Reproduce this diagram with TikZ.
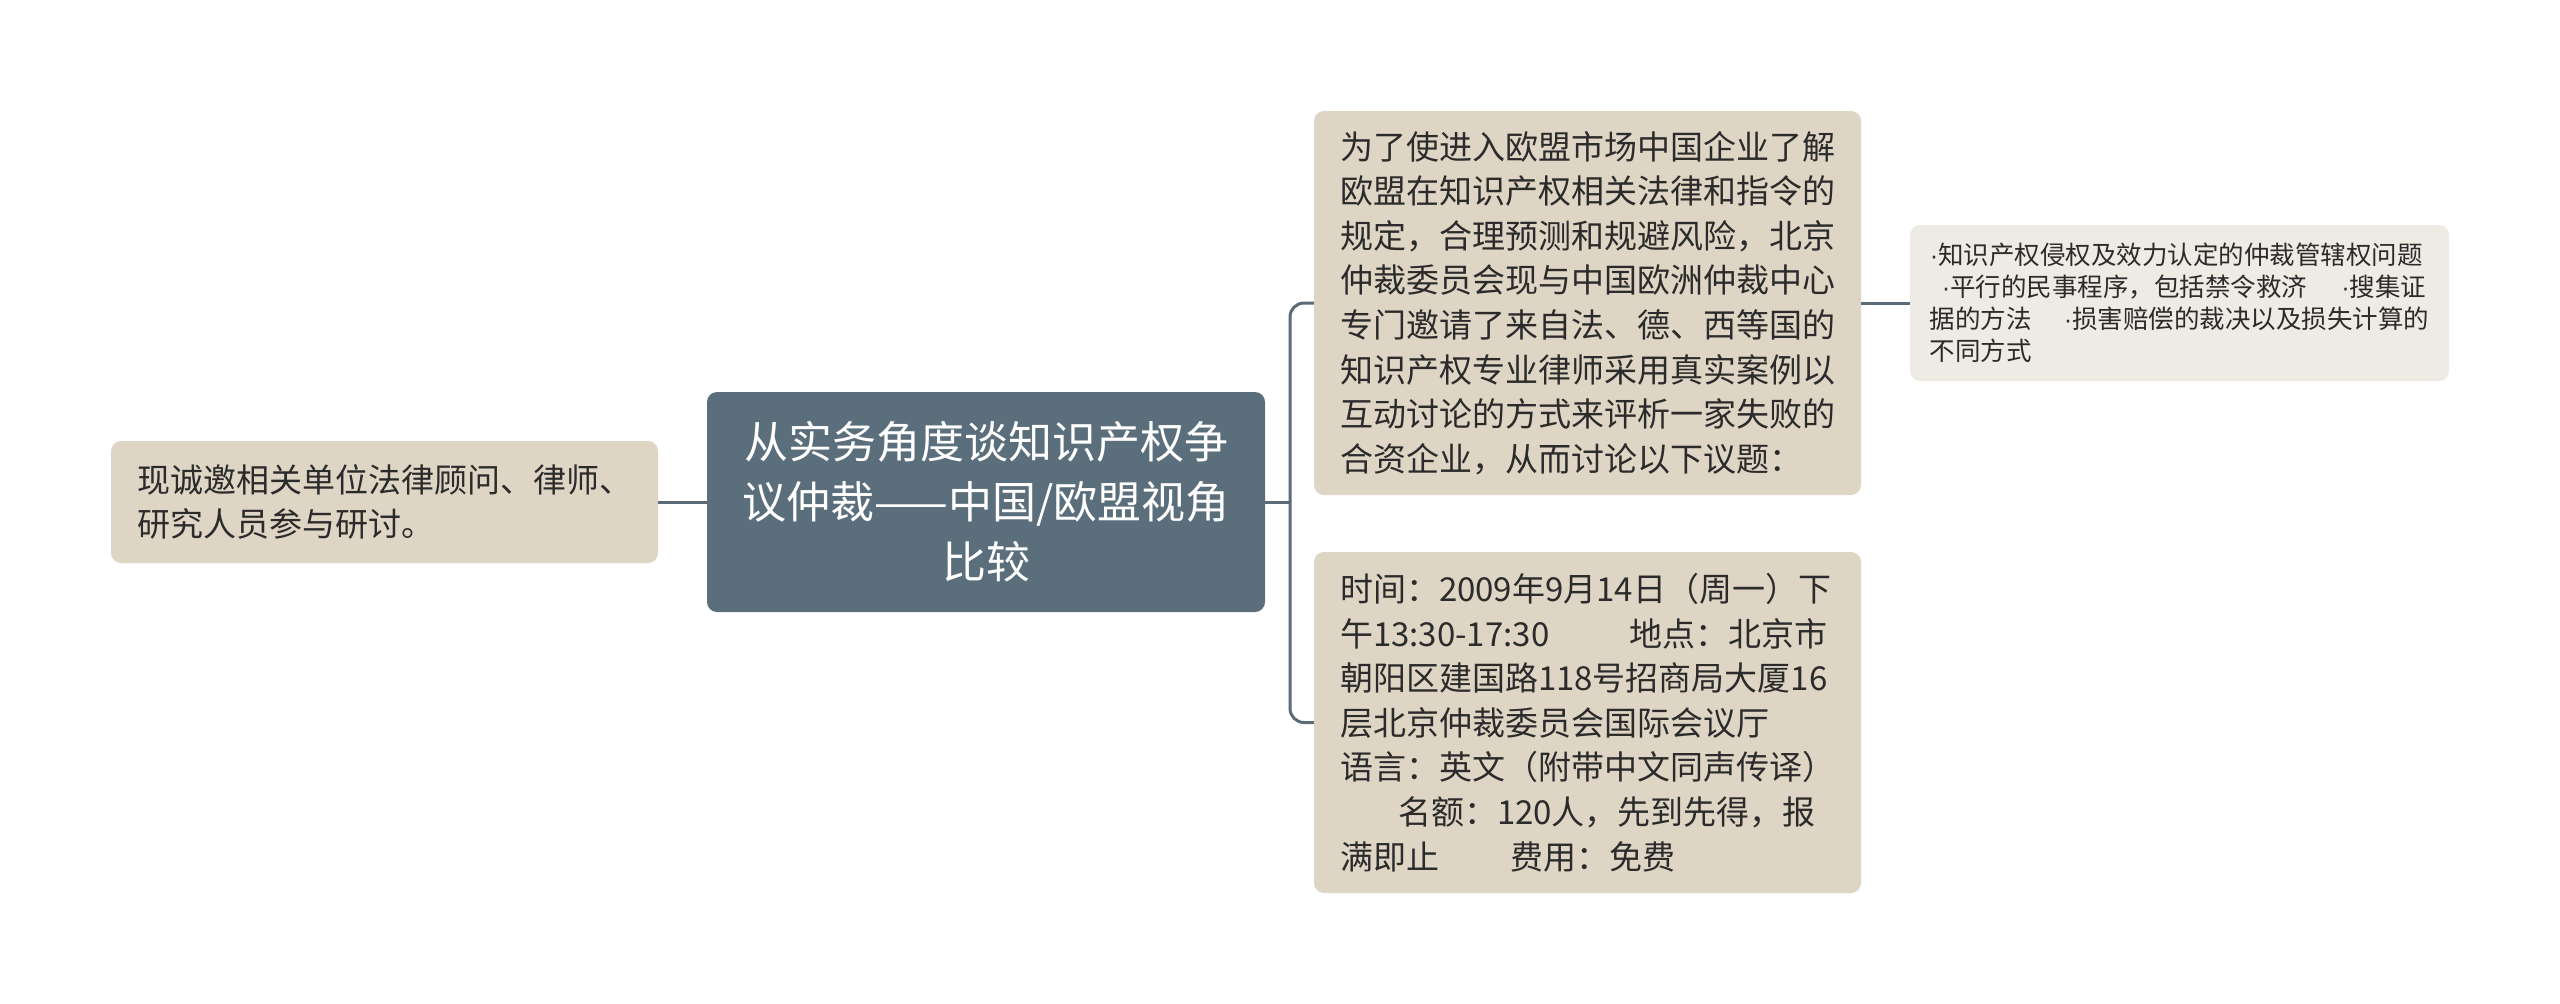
\documentclass[tikz,border=0pt]{standalone}
\usepackage{fontspec}
\setmainfont{Noto Sans CJK SC}
\newfontfamily\latinfont{Liberation Sans}
\newcommand{\mdot}{{\latinfont ·}}
\definecolor{mainfill}{HTML}{5B6E7B}
\definecolor{beige}{HTML}{DED5C5}
\definecolor{lightbeige}{HTML}{EEEBE4}
\definecolor{linecol}{HTML}{5B6B78}
\definecolor{txt}{HTML}{2B2B2B}
\begin{document}
\begin{tikzpicture}[x=1pt,y=-1pt,
  basebox/.style={rounded corners=10pt, inner sep=0pt, text=txt},
  mainbox/.style={basebox, fill=mainfill, text=white, align=center,
    font=\fontsize{44}{60}\selectfont},
  subbox/.style={basebox, fill=beige, align=left,
    font=\fontsize{33}{44.6}\selectfont},
  leafbox/.style={basebox, fill=lightbeige, align=left,
    font=\fontsize{25.5}{32}\selectfont},
  conn/.style={draw=linecol, line width=3pt}]
\useasboundingbox[fill=white] (0,0) rectangle (2560,1004);

\node[mainbox, minimum width=558pt, minimum height=220pt] (c) at (986,502)
  {从实务角度谈知识产权争\\议仲裁——中国/欧盟视角\\比较};

\node[subbox, minimum width=547pt, minimum height=122pt] (l) at (384.5,502)
  {现诚邀相关单位法律顾问、律师、\\研究人员参与研讨。};

\node[subbox, minimum width=547pt, minimum height=384pt] (tr) at (1587.5,303)
  {为了使进入欧盟市场中国企业了解\\
   欧盟在知识产权相关法律和指令的\\
   规定，合理预测和规避风险，北京\\
   仲裁委员会现与中国欧洲仲裁中心\\
   专门邀请了来自法、德、西等国的\\
   知识产权专业律师采用真实案例以\\
   互动讨论的方式来评析一家失败的\\
   合资企业，从而讨论以下议题：};

\node[subbox, minimum width=547pt, minimum height=341pt] (br) at (1587.5,722.5)
  {时间：2009年9月14日（周一）下\\
   午13:30-17:30\hspace{80pt}地点：北京市\\
   朝阳区建国路118号招商局大厦16\\
   层北京仲裁委员会国际会议厅\\
   语言：英文（附带中文同声传译）\\
   \hspace*{58pt}名额：120人，先到先得，报\\
   满即止\hspace{72pt}费用：免费};

\node[leafbox, minimum width=539pt, minimum height=156pt] (fr) at (2179.5,303)
  {\mdot 知识产权侵权及效力认定的仲裁管辖权问题\\
   \hspace*{12pt}\mdot 平行的民事程序，包括禁令救济\hspace{34pt}\mdot 搜集证\\
   据的方法\hspace{32pt}\mdot 损害赔偿的裁决以及损失计算的\\
   不同方式};

\coordinate (j) at (1290,502);
\draw[conn] (l.east) -- (c.west);
\draw[conn] (c.east) -- (j);
\draw[conn, rounded corners=14pt] (tr.west) -| (j) |- (br.west);
\draw[conn] (tr.east) -- (fr.west);
\end{tikzpicture}
\end{document}
